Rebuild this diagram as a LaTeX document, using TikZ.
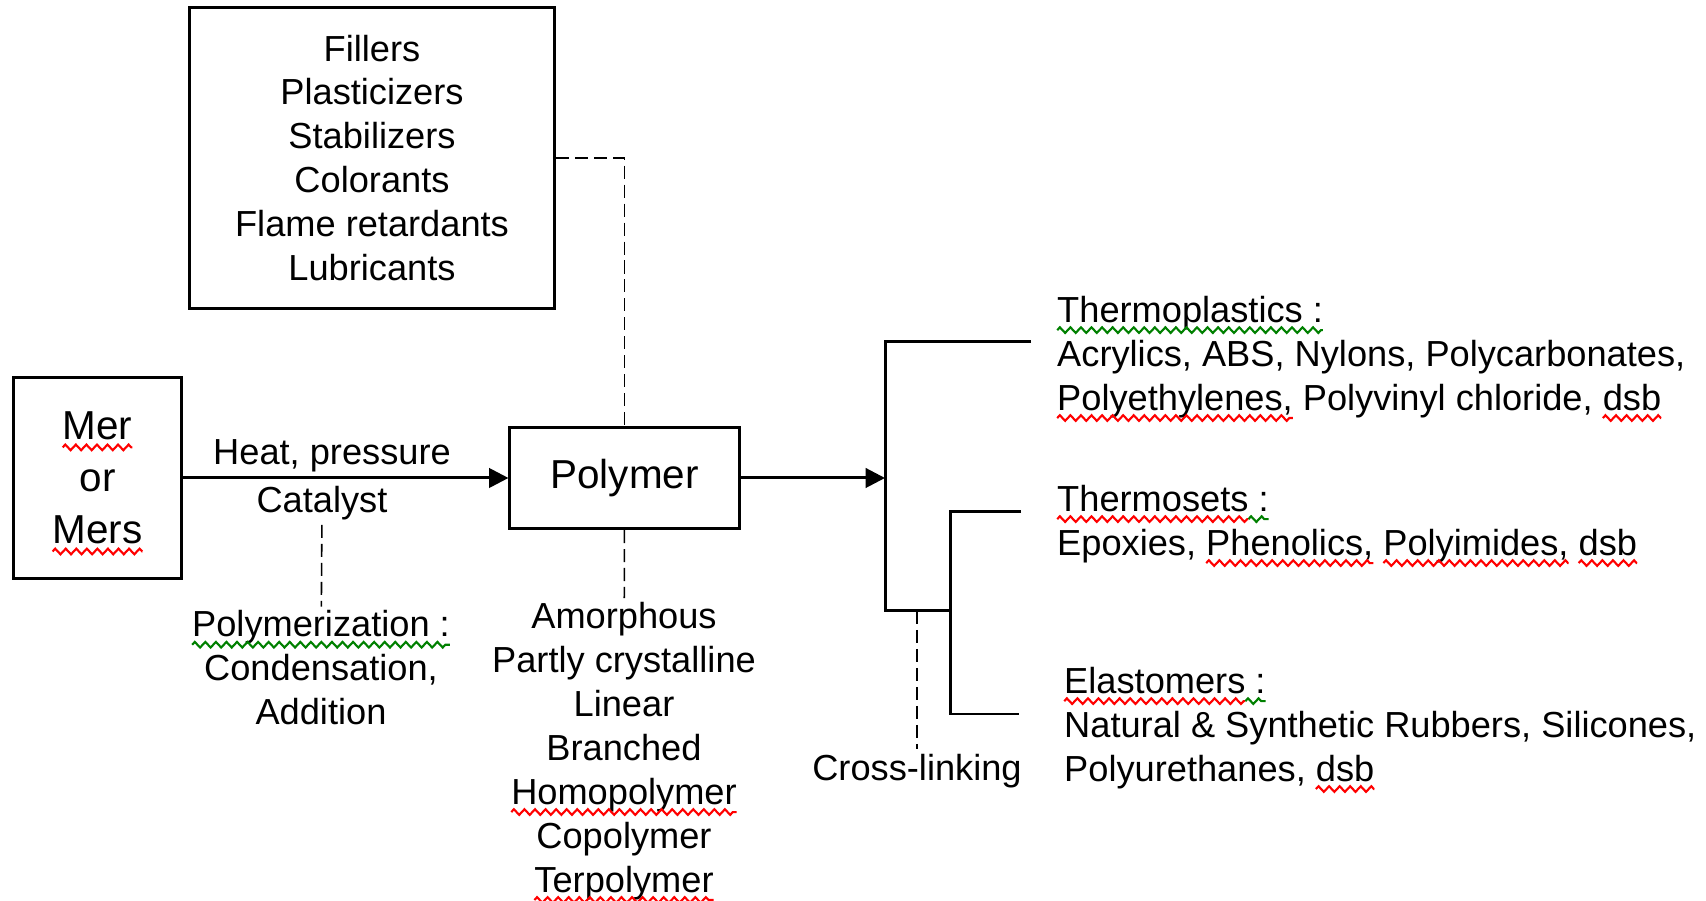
\documentclass[tikz,border=0pt]{standalone}
\usepackage{fontspec}
\setmainfont{Liberation Sans}
\usepackage{tikz}
\usetikzlibrary{arrows.meta,decorations.pathmorphing}

\definecolor{wordgreen}{RGB}{0,128,0}
\newsavebox\sqbox
\newcommand\sqmark[2]{\sbox\sqbox{#2}\rlap{\usebox\sqbox}\tikz[baseline=0pt]{\useasboundingbox (0pt,0pt) rectangle (\wd\sqbox,0pt); \draw[#1, line width=0.6pt, decorate, decoration={zigzag, segment length=3pt, amplitude=0.8pt}] (0pt,-2.2pt) -- (\wd\sqbox,-2.2pt);}}
\newcommand\redsq[1]{\sqmark{red}{#1}}
\newcommand\grnsq[1]{\sqmark{wordgreen}{#1}}

\begin{document}
\begin{tikzpicture}[x=0.01cm, y=-0.01cm, line width=0.85pt,
	txt/.style={inner sep=1pt, align=center, font=\fontsize{10.3}{12.5}\selectfont},
	box/.style={draw, align=center},
	dsh/.style={line width=0.45pt, dash pattern=on 3.7pt off 1.7pt},
	arr/.style={-{Triangle[length=5.5pt,width=5.5pt]}}]
	\useasboundingbox (0,0) rectangle (1706,901);

	\node[txt, box, minimum width=3.65cm, minimum height=3cm] (add) at (372,158) {Fillers\\Plasticizers\\Stabilizers\\Colorants\\Flame retardants\\Lubricants};
	\node[txt, box, font=\fontsize{11.5}{14.8}\selectfont, minimum width=1.67cm, minimum height=2.01cm] (mer) at (97.5,478) {\redsq{Mer}\\or\\\redsq{Mers}};
	\node[txt, box, font=\fontsize{11.5}{14}\selectfont, minimum width=2.29cm, minimum height=1.01cm] (poly) at (624.5,478) {Polymer};
	\node[txt] (heat) at (332,456) {Heat, pressure};
	\node[txt] (cat) at (322,503) {Catalyst};
	\node[txt] (polym) at (321,668) {\grnsq{Polymerization :}\\Condensation,\\Addition};
	\node[txt] (props) at (624,751) {Amorphous\\Partly crystalline\\Linear\\Branched\\\redsq{Homopolymer}\\Copolymer\\\redsq{Terpolymer}};
	\node[txt, anchor=west, align=left] (tp) at (1053,357) {\grnsq{Thermoplastics :}\\Acrylics, ABS, Nylons, Polycarbonates,\\\redsq{Polyethylenes,} Polyvinyl chloride, \redsq{dsb}};
	\node[txt, anchor=west, align=left] (ts) at (1053,524) {\redsq{Thermosets}\grnsq{ :}\\Epoxies, \redsq{Phenolics,} \redsq{Polyimides,} \redsq{dsb}};
	\node[txt, anchor=west, align=left] (el) at (1060,728) {\redsq{Elastomers}\grnsq{ :}\\Natural \& Synthetic Rubbers, Silicones,\\Polyurethanes, \redsq{dsb}};
	\node[txt] (cross) at (917,771) {Cross-linking};

	\coordinate (hub) at (885,478);
	\coordinate (b1) at (885,342);
	\coordinate (b2) at (885,611);
	\coordinate (b3) at (950,611);
	\coordinate (b4) at (950,512);
	\coordinate (b5) at (950,714);
	\coordinate (e1) at (1031,342);
	\coordinate (e2) at (1021,512);
	\coordinate (e3) at (1019,714);
	\coordinate (cl) at (917,611);

	\path [arr]
	(mer)  edge (poly)
	(poly) edge (hub);
	\draw (e1) -- (b1) -- (b2) -- (b3);
	\draw (e2) -- (b4) -- (b5) -- (e3);
	\path [dsh]
	(cat)  edge (polym)
	(poly) edge (props)
	(cl)   edge (cross);
	\draw [dsh] (add) -| (poly);
\end{tikzpicture}
\end{document}
